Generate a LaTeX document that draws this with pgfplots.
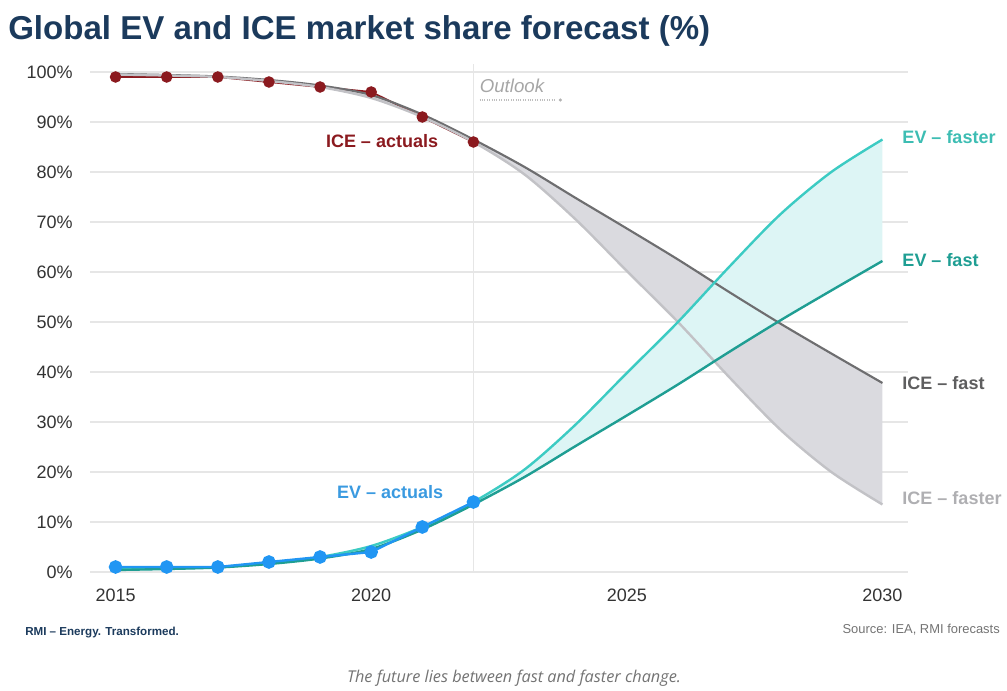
\documentclass[border=0pt]{standalone}
\usepackage{pgfplots}
\pgfplotsset{compat=1.18}
\usepgfplotslibrary{fillbetween}
\usepackage{fontspec}
\setmainfont{Liberation Sans}
\newfontfamily\capfont{Open Sans}
\definecolor{navy}{HTML}{1B3A5C}
\definecolor{tickc}{HTML}{333333}
\definecolor{gridc}{HTML}{E6E6E6}
\definecolor{icered}{HTML}{8B1A1F}
\definecolor{evblue}{HTML}{2196F3}
\definecolor{evbluelab}{HTML}{3A9AE0}
\definecolor{evfaster}{HTML}{3CCBC3}
\definecolor{evfast}{HTML}{1F9E93}
\definecolor{evlab}{HTML}{3DBDB3}
\definecolor{icefast}{HTML}{6E6E70}
\definecolor{icefaster}{HTML}{C2C2C6}
\definecolor{grayfill}{HTML}{DADADF}
\definecolor{cyanfill}{HTML}{DDF5F5}

\pgfplotstableread{
year evfast evfaster icefast icefaster
2015 0.4 0.5 99.6 99.5
2016 0.6 0.7 99.4 99.3
2017 0.9 1.0 99.1 99.0
2018 1.6 1.8 98.4 98.2
2019 2.7 3.0 97.3 97.0
2020 4.6 5.2 95.4 94.8
2021 8.5 9.0 91.5 91.0
2022 13.5 14.0 86.5 86.0
2023 19 20.5 81 79.5
2024 25.2 29.5 74.8 70.5
2025 31.3 39.8 68.7 60.2
2026 37.5 50 62.5 50
2027 44 61 56 39
2028 50.3 71.5 49.7 28.5
2029 56.3 80 43.7 20
2030 62.2 86.5 37.8 13.5
}\forecast

\pgfplotstableread{
year ice ev
2015 99 1
2016 99 1
2017 99 1
2018 98 2
2019 97 3
2020 96 4
2021 91 9
2022 86 14
}\actuals

\begin{document}
\begin{tikzpicture}
\begin{axis}[
  at={(67.5pt,89.25pt)}, anchor=south west,
  scale only axis, width=613.5pt, height=375pt,
  xmin=2014.5, xmax=2030.5, ymin=0, ymax=100,
  clip=false,
  axis line style={draw=none},
  major tick length=0pt,
  xtick={2015,2020,2025,2030},
  ytick={0,10,...,100},
  ymajorgrids, grid style={draw=gridc, line width=0.8pt},
  /pgf/number format/assume math mode=true,
  xticklabel style={/pgf/number format/1000 sep={}, font=\fontsize{13.5}{16}\selectfont, text=tickc, yshift=-9pt},
  yticklabel style={font=\fontsize{13.5}{16}\selectfont, text=tickc, xshift=-9.5pt},
  yticklabel={\pgfmathprintnumber{\tick}\%},
]
\draw[gridc, line width=0.8pt] (axis cs:2022,0) -- (axis cs:2022,101.5);

\addplot[name path=icef, draw=none, smooth, forget plot] table[x=year,y=icefast] {\forecast};
\addplot[name path=iceff, draw=none, smooth, forget plot] table[x=year,y=icefaster] {\forecast};
\addplot[grayfill, forget plot] fill between[of=icef and iceff];
\addplot[name path=evf, draw=none, smooth, forget plot] table[x=year,y=evfast] {\forecast};
\addplot[name path=evff, draw=none, smooth, forget plot] table[x=year,y=evfaster] {\forecast};
\addplot[cyanfill, forget plot] fill between[of=evf and evff];

\addplot[icered, line width=1.4pt, mark=*, mark size=3.6pt] table[x=year,y=ice] {\actuals};
\addplot[icefast, line width=1.6pt, smooth] table[x=year,y=icefast] {\forecast};
\addplot[icefaster, line width=1.8pt, smooth] table[x=year,y=icefaster] {\forecast};
\addplot[evfaster, line width=1.8pt, smooth] table[x=year,y=evfaster] {\forecast};
\addplot[evfast, line width=1.8pt, smooth] table[x=year,y=evfast] {\forecast};

\addplot[evblue, line width=1.8pt, mark=*, mark size=4.2pt] table[x=year,y=ev] {\actuals};

\node[anchor=east, text=icered, font=\fontsize{13.5}{16}\selectfont\bfseries] at (axis cs:2021.4,86.2) {ICE -- actuals};
\node[anchor=east, text=evbluelab, font=\fontsize{13.5}{16}\selectfont\bfseries] at (axis cs:2021.5,16) {EV -- actuals};
\node[anchor=west, text=evlab, font=\fontsize{13.5}{16}\selectfont\bfseries] at (axis cs:2030.3,87) {EV -- faster};
\node[anchor=west, text=evfast, font=\fontsize{13.5}{16}\selectfont\bfseries] at (axis cs:2030.3,62.4) {EV -- fast};
\node[anchor=west, text=icefast!85!black, font=\fontsize{13.5}{16}\selectfont\bfseries] at (axis cs:2030.3,37.8) {ICE -- fast};
\node[anchor=west, text=icefaster!90!black, font=\fontsize{13.5}{16}\selectfont\bfseries] at (axis cs:2030.3,14.8) {ICE -- faster};
\node[anchor=west, text=black!35, font=\fontsize{14}{16}\selectfont\itshape, inner sep=0pt] at (axis cs:2022.12,97.2) {Outlook};
\draw[black!25, densely dotted, line width=0.8pt] (axis cs:2022.12,94.4) -- (axis cs:2023.6,94.4);
\fill[black!30] (axis cs:2023.7,94.4) circle (1.3pt);
\end{axis}
\node[anchor=base west, text=navy, font=\fontsize{24.8}{29}\selectfont\bfseries, inner sep=0pt] at (6pt,488.25pt) {Global EV and ICE market share forecast (\%)};
\node[anchor=west, text=navy, font=\fontsize{8.7}{10}\selectfont\bfseries, inner sep=0pt] at (18.75pt,43.5pt) {RMI -- Energy. Transformed.};
\node[anchor=east, text=black!55, font=\fontsize{9.7}{11}\selectfont, inner sep=0pt] at (750pt,45.75pt) {Source: IEA, RMI forecasts};
\node[text=black!55, font=\capfont\fontsize{12.2}{14}\selectfont\itshape, inner sep=0pt] at (385.5pt,9.75pt) {The future lies between fast and faster change.};
\path (0pt,0pt) rectangle (755.25pt,518.25pt);
\end{tikzpicture}
\end{document}
